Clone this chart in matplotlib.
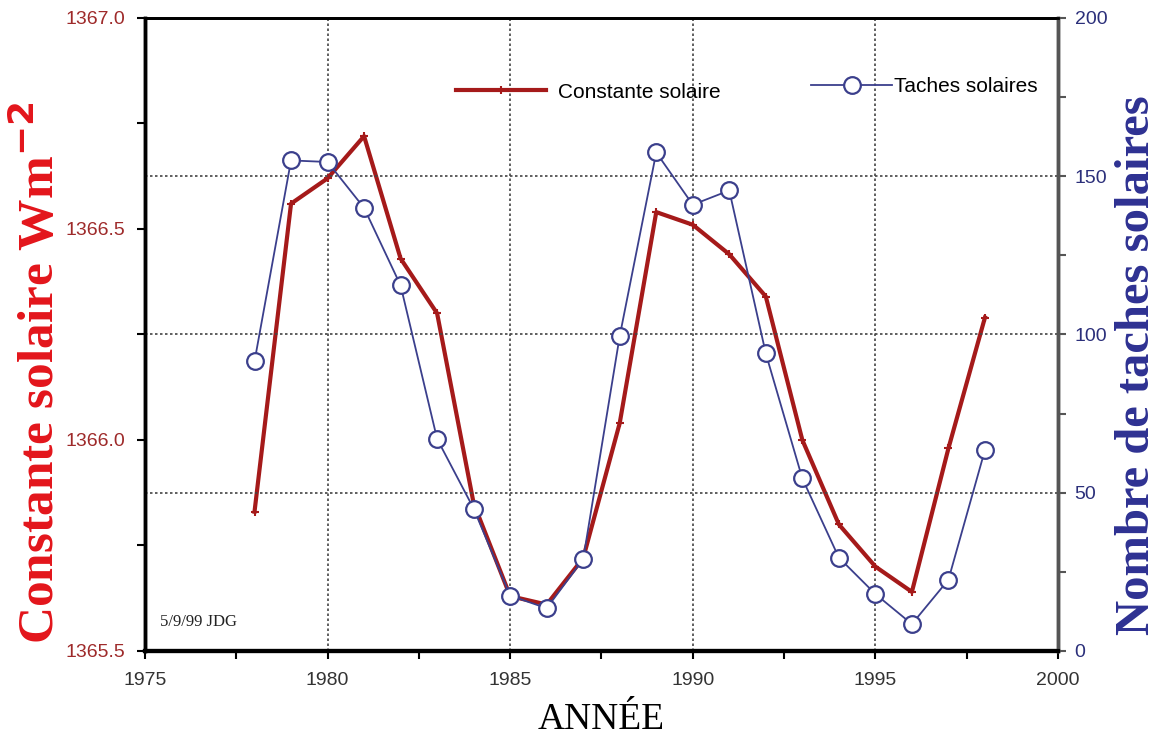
import matplotlib.pyplot as plt
from matplotlib.ticker import MultipleLocator

# Données
annees = list(range(1978, 1999))
constante_solaire = [1365.83, 1366.56, 1366.62, 1366.72, 1366.43, 1366.30, 1365.85,
                     1365.63, 1365.61, 1365.72, 1366.04, 1366.54, 1366.51, 1366.44,
                     1366.34, 1366.00, 1365.80, 1365.70, 1365.64, 1365.98, 1366.29]
taches_solaires = [91.5, 155, 154.5, 140, 115.5, 67, 45, 17.5, 13.5, 29, 99.5,
                   157.5, 141, 145.5, 94, 54.5, 29.5, 18, 8.5, 22.5, 63.5]

ROUGE = '#A51A1A'
BLEU = '#3B3F8C'

fig = plt.figure(figsize=(11.68, 7.4), dpi=100)
ax = fig.add_axes([0.1241, 0.1203, 0.7817, 0.8554])
ax2 = ax.twinx()

# Courbes
ligne_rouge, = ax.plot(annees, constante_solaire, color=ROUGE, lw=3,
                       marker='+', ms=6, mew=1.5, label='Constante solaire')
ligne_bleue, = ax2.plot(annees, taches_solaires, color=BLEU, lw=1.3,
                        marker='o', ms=12, mfc='white', mec=BLEU, mew=1.6,
                        label='Taches solaires')

# Axes
ax.set_xlim(1975, 2000)
ax.set_ylim(1365.5, 1367.0)
ax2.set_ylim(0, 200)
ax.xaxis.set_major_locator(MultipleLocator(5))
ax.xaxis.set_minor_locator(MultipleLocator(2.5))
ax.yaxis.set_major_locator(MultipleLocator(0.5))
ax.yaxis.set_minor_locator(MultipleLocator(0.25))
ax2.yaxis.set_major_locator(MultipleLocator(50))
ax2.yaxis.set_minor_locator(MultipleLocator(25))
ax.yaxis.set_major_formatter(plt.FuncFormatter(lambda v, p: f'{v:.1f}'))

ax.tick_params(axis='x', which='both', direction='out', labelsize=14,
               labelcolor='#333333', length=6, width=1.5, pad=9)
ax.tick_params(axis='y', which='both', direction='out', labelsize=14,
               labelcolor='#9E2A2A', length=6, width=1.5, pad=8)
ax2.tick_params(axis='y', which='both', direction='out', labelsize=14,
                length=6, width=1.5, colors='#555555', pad=6)
ax2.tick_params(axis='y', labelcolor='#2B2F7A')
for t in ax.get_xticklabels() + ax.get_yticklabels() + ax2.get_yticklabels():
    t.set_family('Liberation Sans')

# Grille pointillée
ax.grid(axis='x', which='major', linestyle=(0, (1.5, 1.5)), color='#444444', lw=1.2)
ax2.grid(axis='y', which='major', linestyle=(0, (1.5, 1.5)), color='#444444', lw=1.2)

# Cadre
for a in (ax, ax2):
    a.spines['left'].set_linewidth(2.5)
    a.spines['left'].set_color('black')
    a.spines['bottom'].set_linewidth(3)
    a.spines['top'].set_linewidth(2)
    a.spines['right'].set_linewidth(2.5)
    a.spines['right'].set_color('#555555')

# Titres des axes
ax.set_ylabel('Constante solaire Wm$^{\\mathbf{-2}}$', family='Liberation Serif',
              fontweight='bold', fontsize=37, color='#E3151B')
ax.yaxis.set_label_coords(-0.088, 0.44)
ax2.set_ylabel('Nombre de taches solaires', family='Liberation Serif',
               fontweight='bold', fontsize=35, color='#2E3192')
ax2.yaxis.set_label_coords(1.063, 0.452)
ax.set_xlabel('ANNÉE', family='Liberation Serif', fontsize=27, color='black',
              labelpad=10)

ax.text(0.017, 0.04, '5/9/99 JDG', transform=ax.transAxes, family='Liberation Serif',
        fontsize=12, color='#222222')

# Légendes
leg1 = ax2.legend(handles=[ligne_rouge], loc='center left', bbox_to_anchor=(0.341, 0.883),
                  frameon=False, borderpad=0, borderaxespad=0, handlelength=4.3,
                  handletextpad=0.6, numpoints=1,
                  prop={'family': 'Liberation Sans', 'size': 15})
ax2.add_artist(leg1)
ax2.legend(handles=[ligne_bleue], loc='center left', bbox_to_anchor=(0.7295, 0.891),
           frameon=False, borderpad=0, borderaxespad=0, handlelength=3.9,
           handletextpad=0.1, numpoints=1,
           prop={'family': 'Liberation Sans', 'size': 15})

fig.savefig('out.png', dpi=100)
